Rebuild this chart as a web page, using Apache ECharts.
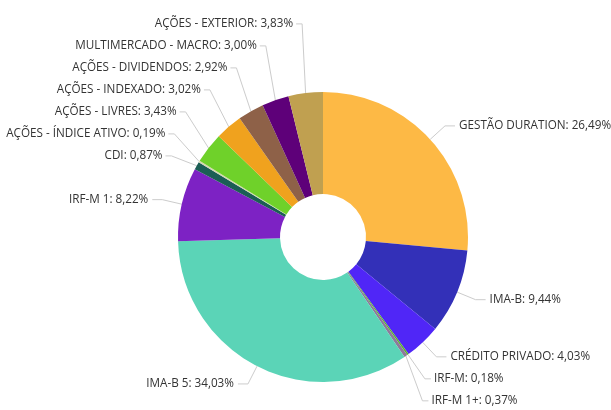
<!DOCTYPE html>
<html>
<head>
<meta charset="utf-8">
<script src="https://cdn.jsdelivr.net/npm/echarts@6/dist/echarts.min.js"></script>
<style>
  * { margin: 0; padding: 0; }
  body { background: #fff; }
</style>
</head>
<body>
<div id="pie" style="width: 611px;height: 410px;"></div>
<script type="text/javascript">
  // fatias no sentido horário a partir do topo
  let categories = [
    'GESTÃO DURATION', 'IMA-B', 'CRÉDITO PRIVADO', 'IRF-M', 'IRF-M 1+',
    'IMA-B 5', 'IRF-M 1', 'CDI', 'AÇÕES - ÍNDICE ATIVO', 'AÇÕES - LIVRES',
    'AÇÕES - INDEXADO', 'AÇÕES - DIVIDENDOS', 'MULTIMERCADO - MACRO', 'AÇÕES - EXTERIOR'
  ]
  let values = [26.49, 9.44, 4.03, 0.18, 0.37, 34.03, 8.22, 0.87, 0.19, 3.43, 3.02, 2.92, 3.00, 3.83]
  let colors = [
    '#fdb945', '#3330b8', '#5026f7', '#5ab52c', '#8d7a9c',
    '#5bd4b7', '#7d22c4', '#1b5e55', '#d6d7b0', '#6fd12a',
    '#f0a21e', '#8e6148', '#5e0079', '#c0a050'
  ]

  let cx = 323, cy = 237, rIn = 43, rOut = 145
  let rLabel = 165     // onde o rótulo fica se não for empurrado
  let rElbow = 174     // cotovelo da linha quando o rótulo é empurrado
  let step = 22        // espaçamento vertical entre rótulos empilhados

  // ângulo do meio de cada fatia (a partir do topo, sentido horário)
  let total = values.reduce(function (a, b) { return a + b }, 0)
  let midAngles = []
  let acc = 0
  values.forEach(function (v) {
    midAngles.push((acc + v / 2) / total * Math.PI * 2)
    acc += v
  })
  function px(r, a) { return cx + r * Math.sin(a) }
  function py(r, a) { return cy - r * Math.cos(a) }

  // rótulos pequenos empilhados: para cima a partir do CDI, para baixo a partir do CRÉDITO PRIVADO
  function shifted(i) { return i >= 7 || i === 3 || i === 4 }
  function labelY(i) {
    if (i >= 7) return py(rLabel, midAngles[7]) - step * (i - 7)
    if (i === 3 || i === 4) return py(rLabel, midAngles[2]) + step * (i - 2)
    return py(rLabel, midAngles[i])
  }

  let myChart = echarts.init(document.getElementById('pie'))
  myChart.setOption({
    backgroundColor: '#fff',
    animation: false,
    series: [{
      type: 'pie',
      center: [cx, cy],
      radius: [rIn, rOut],
      startAngle: 90,
      clockwise: true,
      avoidLabelOverlap: false,
      label: {
        show: true,
        color: '#333',
        fontSize: 11.7,
        fontFamily: 'Open Sans',
        overflow: 'none',
        formatter: function (p) {
          return p.name + ': ' + p.value.toFixed(2).replace('.', ',') + '%'
        }
      },
      labelLine: {
        length: 20,
        length2: 10,
        lineStyle: {color: '#ccc', width: 1}
      },
      labelLayout: function (params) {
        let i = params.dataIndex
        let a = midAngles[i]
        let right = Math.sin(a) >= 0
        let dir = right ? 1 : -1
        let y = labelY(i)
        let ex = shifted(i) ? px(rElbow, a) : px(rLabel, a)
        let seg = shifted(i) ? 6 : 10
        let gap = shifted(i) ? 3 : 4
        let p0 = [px(rOut, a), py(rOut, a)]
        let p1 = [ex, y]
        let p2 = [ex + dir * seg, y]
        return {
          x: p2[0] + dir * gap,
          y: y,
          align: right ? 'left' : 'right',
          verticalAlign: 'middle',
          labelLinePoints: [p0, p1, p2]
        }
      },
      itemStyle: {borderWidth: 0},
      data: categories.map(function (name, i) {
        return {name: name, value: values[i], itemStyle: {color: colors[i]}}
      })
    }]
  })
</script>
</body>
</html>
